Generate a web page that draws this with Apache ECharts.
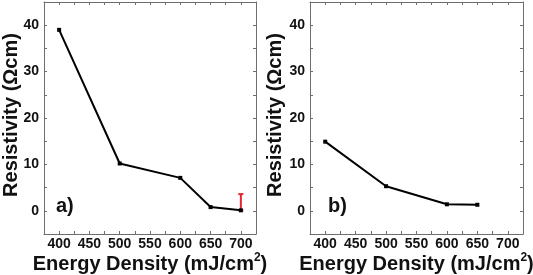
<!DOCTYPE html>
<html>
<head>
<meta charset="utf-8">
<script src="https://cdn.jsdelivr.net/npm/echarts@6/dist/echarts.min.js"></script>
<style>
html,body{margin:0;padding:0;background:#fff;}
#c{width:533px;height:275px;}
</style>
</head>
<body>
<div id="c"></div>
<script>
// ---- data ----
const xA = [400, 500, 600, 650, 700];
const yA = [39.0, 10.2, 7.1, 0.8, 0.1];
const xB = [400, 500, 600, 650];
const yB = [14.9, 5.3, 1.4, 1.3];
const errX = [700];
const errLow = [0.1];
const errHigh = [3.6];
const xTickLabels = [400, 450, 500, 550, 600, 650, 700];
const yTickLabels = [0, 10, 20, 30, 40];
const xTitle = 'Energy Density (mJ/cm';
const yTitle = 'Resistivity (Ωcm)';
const panelLabels = ['a)', 'b)'];

const FONT = 'Liberation Sans, Arial, sans-serif';
const AXIS_COLOR = '#6e6e6e';

function xAxes(gi) {
  const base = {
    type: 'value', gridIndex: gi, min: 375, max: 725, interval: 25,
    axisLine: {show: true, onZero: false, lineStyle: {color: AXIS_COLOR, width: 1}},
    axisTick: {show: true, inside: true, length: 3, lineStyle: {color: AXIS_COLOR}},
    splitLine: {show: false}
  };
  return [
    Object.assign({}, base, {
      position: 'bottom',
      axisLabel: {
        show: true, margin: 3, color: '#111', fontFamily: FONT, fontWeight: 'bold', fontSize: 14,
        formatter: v => xTickLabels.indexOf(v) >= 0 ? String(v) : ''
      },
      name: '{t|' + xTitle + '}{s|2}{t|)}',
      nameLocation: 'middle', nameGap: 18, nameMoveOverlap: false,
      nameTextStyle: {
        rich: {
          t: {fontFamily: FONT, fontWeight: 'bold', fontSize: 20, color: '#111', lineHeight: 22, verticalAlign: 'bottom'},
          s: {fontFamily: FONT, fontWeight: 'bold', fontSize: 12, color: '#111', lineHeight: 22, verticalAlign: 'top'}
        }
      }
    }),
    Object.assign({}, base, {position: 'top', axisLabel: {show: false}})
  ];
}

function yAxes(gi) {
  const base = {
    type: 'value', gridIndex: gi, min: -5, max: 45, interval: 5,
    axisLine: {show: true, onZero: false, lineStyle: {color: AXIS_COLOR, width: 1}},
    axisTick: {show: true, inside: true, length: 3, lineStyle: {color: AXIS_COLOR}},
    splitLine: {show: false}
  };
  return [
    Object.assign({}, base, {
      position: 'left',
      axisLabel: {
        show: true, margin: 5, color: '#111', fontFamily: FONT, fontWeight: 'bold', fontSize: 14,
        formatter: v => yTickLabels.indexOf(v) >= 0 ? String(v) : ''
      },
      name: yTitle, nameLocation: 'middle', nameGap: gi === 0 ? 23 : 25, nameRotate: 90, nameMoveOverlap: false,
      nameTextStyle: {fontFamily: FONT, fontWeight: 'bold', fontSize: 20, color: '#111', padding: [0, 0, 0, 6]}
    }),
    Object.assign({}, base, {position: 'right', axisLabel: {show: false}})
  ];
}

const chart = echarts.init(document.getElementById('c'), null, {renderer: 'canvas'});

const lineStyle = {color: '#000', width: 2};
const itemStyle = {color: '#000'};

chart.setOption({
  animation: false,
  backgroundColor: '#fff',
  grid: [
    {left: 44, top: 2, width: 212, height: 232, show: false, containLabel: false, outerBoundsMode: 'none'},
    {left: 310, top: 2, width: 213, height: 232, show: false, containLabel: false, outerBoundsMode: 'none'}
  ],
  xAxis: [].concat(xAxes(0), xAxes(1)),
  yAxis: [].concat(yAxes(0), yAxes(1)),
  graphic: [
    {type: 'text', left: 56, top: 196, style: {text: panelLabels[0], font: 'bold 20px ' + FONT, fill: '#111'}},
    {type: 'text', left: 328, top: 196, style: {text: panelLabels[1], font: 'bold 20px ' + FONT, fill: '#111'}}
  ],
  series: [
    {
      type: 'line', xAxisIndex: 0, yAxisIndex: 0,
      data: xA.map((x, i) => [x, yA[i]]),
      lineStyle: lineStyle, itemStyle: itemStyle,
      symbol: 'rect', symbolSize: 4, showSymbol: true
    },
    {
      type: 'custom', xAxisIndex: 0, yAxisIndex: 0,
      data: errX.map((x, i) => [x, errLow[i], errHigh[i]]),
      renderItem: function (params, api) {
        const lo = api.coord([api.value(0), api.value(1)]);
        const hi = api.coord([api.value(0), api.value(2)]);
        const w = 2.5;
        const st = {stroke: '#e8262b', lineWidth: 2};
        return {
          type: 'group',
          children: [
            {type: 'line', shape: {x1: lo[0], y1: lo[1], x2: hi[0], y2: hi[1]}, style: st},
            {type: 'line', shape: {x1: hi[0] - w, y1: hi[1], x2: hi[0] + w, y2: hi[1]}, style: st},
            {type: 'line', shape: {x1: lo[0] - w, y1: lo[1], x2: lo[0] + w, y2: lo[1]}, style: st}
          ]
        };
      },
      z: 1
    },
    {
      type: 'line', xAxisIndex: 2, yAxisIndex: 2,
      data: xB.map((x, i) => [x, yB[i]]),
      lineStyle: lineStyle, itemStyle: itemStyle,
      symbol: 'rect', symbolSize: 4, showSymbol: true
    }
  ]
});
</script>
</body>
</html>
